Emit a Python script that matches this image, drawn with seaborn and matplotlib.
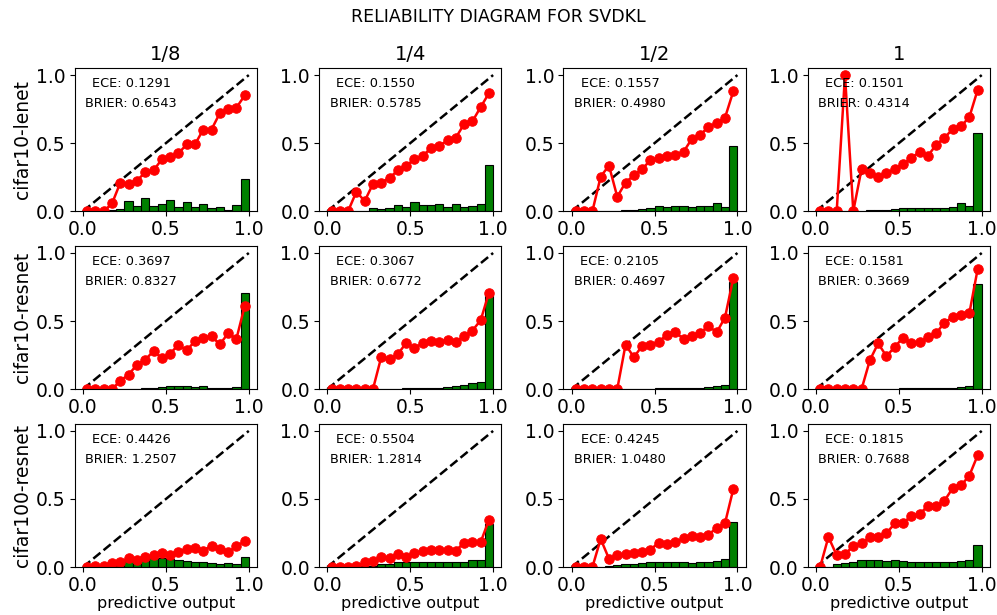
import matplotlib
matplotlib.use("Agg")
import matplotlib.pyplot as plt
import numpy as np
import pandas as pd
import seaborn as sns

# 20 confidence bins, centres 0.025 ... 0.975
bin_edges = np.linspace(0, 1, 21)
bin_centres = (bin_edges[:-1] + bin_edges[1:]) / 2

datasets = ["cifar10-lenet", "cifar10-resnet", "cifar100-resnet"]
fractions = ["1/8", "1/4", "1/2", "1"]

# accuracy per bin (red line), rows = datasets, cols = fractions
acc_lenet_8 = [0, 0, 0, 0.057, 0.21, 0.20, 0.225, 0.285, 0.30, 0.38, 0.40, 0.425, 0.49, 0.49, 0.60, 0.60, 0.72, 0.75, 0.76, 0.85]
acc_lenet_4 = [0, 0, 0, 0.143, 0.074, 0.20, 0.21, 0.245, 0.30, 0.335, 0.38, 0.405, 0.465, 0.48, 0.52, 0.54, 0.64, 0.66, 0.765, 0.867]
acc_lenet_2 = [0, 0, 0, 0.254, 0.335, 0.106, 0.21, 0.264, 0.31, 0.374, 0.39, 0.406, 0.416, 0.436, 0.532, 0.56, 0.62, 0.648, 0.687, 0.88]
acc_lenet_1 = [0, 0, 0, 1.0, 0, 0.31, 0.28, 0.254, 0.28, 0.31, 0.347, 0.39, 0.436, 0.406, 0.488, 0.54, 0.603, 0.625, 0.69, 0.89]
acc_resnet_8 = [0, 0, 0, 0, 0.062, 0.106, 0.18, 0.215, 0.28, 0.227, 0.26, 0.326, 0.284, 0.353, 0.378, 0.388, 0.328, 0.41, 0.368, 0.61]
acc_resnet_4 = [0, 0, 0, 0, 0, 0, 0.235, 0.22, 0.257, 0.338, 0.304, 0.336, 0.35, 0.346, 0.363, 0.348, 0.39, 0.43, 0.506, 0.709]
acc_resnet_2 = [0, 0, 0, 0, 0, 0, 0.326, 0.235, 0.316, 0.323, 0.348, 0.40, 0.42, 0.368, 0.393, 0.412, 0.464, 0.417, 0.526, 0.815]
acc_resnet_1 = [0, 0, 0, 0, 0, 0, 0.212, 0.336, 0.242, 0.309, 0.378, 0.34, 0.343, 0.383, 0.41, 0.489, 0.528, 0.546, 0.556, 0.879]
acc_c100_8 = [0, 0.007, 0.005, 0.03, 0.037, 0.064, 0.054, 0.071, 0.086, 0.10, 0.086, 0.108, 0.135, 0.142, 0.12, 0.157, 0.133, 0.108, 0.152, 0.19]
acc_c100_4 = [0, 0, 0, 0.005, 0.034, 0.042, 0.071, 0.069, 0.096, 0.076, 0.103, 0.115, 0.128, 0.128, 0.128, 0.12, 0.179, 0.187, 0.184, 0.346]
acc_c100_2 = [0, 0, 0, 0.206, 0.061, 0.086, 0.093, 0.103, 0.113, 0.128, 0.179, 0.17, 0.182, 0.211, 0.231, 0.219, 0.238, 0.287, 0.322, 0.572]
acc_c100_1 = [0, 0.221, 0.086, 0.093, 0.157, 0.177, 0.219, 0.219, 0.248, 0.32, 0.32, 0.378, 0.388, 0.45, 0.45, 0.487, 0.58, 0.60, 0.671, 0.82]

# fraction of samples per bin (green bars)
cnt_lenet_8 = [0, 0, 0, 0.005, 0.015, 0.075, 0.035, 0.095, 0.04, 0.05, 0.085, 0.03, 0.07, 0.03, 0.05, 0.02, 0.03, 0.012, 0.045, 0.235]
cnt_lenet_4 = [0, 0, 0, 0, 0.003, 0.022, 0.015, 0.027, 0.047, 0.032, 0.07, 0.042, 0.047, 0.055, 0.032, 0.05, 0.032, 0.035, 0.05, 0.34]
cnt_lenet_2 = [0, 0, 0, 0, 0.002, 0.004, 0.006, 0.01, 0.015, 0.02, 0.035, 0.03, 0.035, 0.038, 0.028, 0.04, 0.035, 0.06, 0.03, 0.48]
cnt_lenet_1 = [0, 0, 0, 0, 0, 0.003, 0.005, 0.01, 0.012, 0.015, 0.02, 0.025, 0.025, 0.02, 0.025, 0.022, 0.03, 0.057, 0.04, 0.575]
cnt_resnet_8 = [0, 0, 0, 0, 0, 0.002, 0.004, 0.008, 0.005, 0.012, 0.025, 0.025, 0.02, 0.015, 0.02, 0.01, 0.01, 0.01, 0.018, 0.704]
cnt_resnet_4 = [0, 0, 0, 0, 0, 0, 0, 0, 0.003, 0.005, 0.008, 0.008, 0.008, 0.01, 0.012, 0.02, 0.03, 0.045, 0.055, 0.69]
cnt_resnet_2 = [0, 0, 0, 0, 0, 0, 0, 0, 0, 0.003, 0.005, 0.006, 0.006, 0.007, 0.008, 0.01, 0.013, 0.02, 0.032, 0.788]
cnt_resnet_1 = [0, 0, 0, 0, 0, 0, 0, 0, 0.002, 0.004, 0.006, 0.007, 0.007, 0.008, 0.008, 0.009, 0.01, 0.015, 0.025, 0.77]
cnt_c100_8 = [0, 0.002, 0.005, 0.02, 0.04, 0.058, 0.066, 0.065, 0.065, 0.068, 0.062, 0.052, 0.045, 0.04, 0.035, 0.032, 0.025, 0.028, 0.02, 0.071]
cnt_c100_4 = [0, 0, 0, 0, 0.005, 0.01, 0.02, 0.025, 0.035, 0.035, 0.04, 0.035, 0.035, 0.037, 0.035, 0.035, 0.035, 0.05, 0.055, 0.317]
cnt_c100_2 = [0, 0, 0, 0.003, 0.008, 0.012, 0.02, 0.025, 0.03, 0.035, 0.04, 0.035, 0.035, 0.035, 0.033, 0.035, 0.035, 0.045, 0.06, 0.33]
cnt_c100_1 = [0, 0, 0.02, 0.03, 0.04, 0.05, 0.052, 0.05, 0.045, 0.048, 0.045, 0.04, 0.04, 0.035, 0.035, 0.037, 0.04, 0.045, 0.055, 0.162]

ece = [[0.1291, 0.1550, 0.1557, 0.1501],
       [0.3697, 0.3067, 0.2105, 0.1581],
       [0.4426, 0.5504, 0.4245, 0.1815]]
brier = [[0.6543, 0.5785, 0.4980, 0.4314],
         [0.8327, 0.6772, 0.4697, 0.3669],
         [1.2507, 1.2814, 1.0480, 0.7688]]

accs = [[acc_lenet_8, acc_lenet_4, acc_lenet_2, acc_lenet_1],
        [acc_resnet_8, acc_resnet_4, acc_resnet_2, acc_resnet_1],
        [acc_c100_8, acc_c100_4, acc_c100_2, acc_c100_1]]
cnts = [[cnt_lenet_8, cnt_lenet_4, cnt_lenet_2, cnt_lenet_1],
        [cnt_resnet_8, cnt_resnet_4, cnt_resnet_2, cnt_resnet_1],
        [cnt_c100_8, cnt_c100_4, cnt_c100_2, cnt_c100_1]]

sns.set_style("ticks", {"axes.edgecolor": "black", "text.color": "black",
                        "axes.labelcolor": "black", "xtick.color": "black",
                        "ytick.color": "black"})
plt.rcParams["font.family"] = ["DejaVu Sans"]

fig, axes = plt.subplots(3, 4, figsize=(9.97, 6.15), dpi=100)
fig.subplots_adjust(left=0.075, right=0.993, top=0.889, bottom=0.078,
                    wspace=0.34, hspace=0.245)
fig.suptitle("RELIABILITY DIAGRAM FOR SVDKL", fontsize=12.5, y=0.987)

for r in range(3):
    for c in range(4):
        ax = axes[r, c]
        df = pd.DataFrame({"conf": bin_centres, "acc": accs[r][c], "frac": cnts[r][c]})
        sns.histplot(data=df, x="conf", weights="frac", binwidth=0.05, binrange=(0, 1),
                     ax=ax, color="green", alpha=1, edgecolor="black", linewidth=0.8)
        ax.plot([0, 1], [0, 1], "k--", linewidth=1.8)
        sns.lineplot(data=df, x="conf", y="acc", ax=ax, color="red",
                     marker="o", markersize=6.8, markeredgecolor="red",
                     linewidth=1.8)
        ax.text(0.31, 0.89, "ECE: {:.4f}".format(ece[r][c]), transform=ax.transAxes,
                ha="center", va="center", fontsize=9.3)
        ax.text(0.31, 0.75, "BRIER: {:.4f}".format(brier[r][c]), transform=ax.transAxes,
                ha="center", va="center", fontsize=9.3)
        ax.set_xticks([0, 0.5, 1])
        ax.set_yticks([0, 0.5, 1])
        ax.tick_params(labelsize=13.5, length=3.5, width=0.8, pad=3)
        for s in ax.spines.values():
            s.set_linewidth(0.8)
        ax.set_ylabel(datasets[r] if c == 0 else "", fontsize=13.5, labelpad=3)
        ax.set_xlabel("predictive output" if r == 2 else "", fontsize=11.5, labelpad=1)
        if r == 0:
            ax.set_title(fractions[c], fontsize=14)

plt.savefig("out.png", dpi=100)
